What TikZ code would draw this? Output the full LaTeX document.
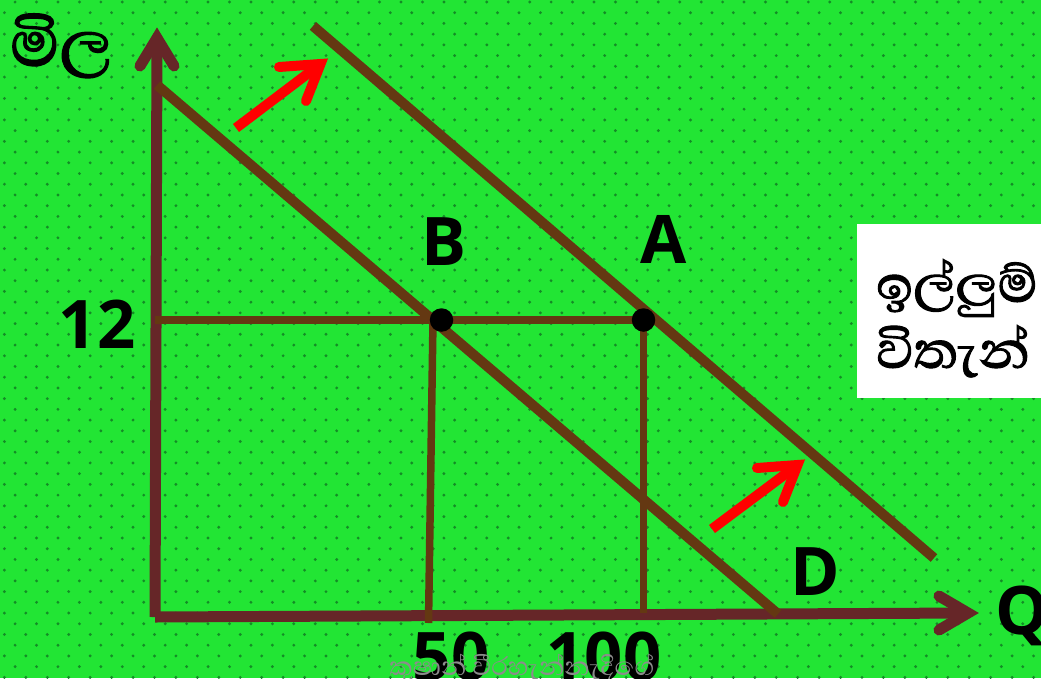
\documentclass[tikz,border=0pt]{standalone}
\usepackage{fontspec}
\setmainfont{Open Sans}
\newfontfamily\sinhalafont[Script=Sinhala,FakeBold=1.6]{Abhaya Libre}
\newfontfamily\sinhalalight[Script=Sinhala]{Abhaya Libre}
\definecolor{bg}{RGB}{34,229,52}
\definecolor{dotc}{RGB}{20,140,38}
\definecolor{axisc}{RGB}{102,38,40}
\definecolor{dem}{RGB}{100,56,18}
\definecolor{redc}{RGB}{255,0,0}
\definecolor{wmc}{RGB}{140,140,140}
\begin{document}
\begin{tikzpicture}[x=1pt,y=-1pt,
  axisline/.style={draw=axisc,line width=11pt},
  axishead/.style={draw=axisc,line width=11pt,line cap=round,line join=miter},
  demline/.style={draw=dem,line width=10pt},
  guide/.style={draw=dem,line width=7.5pt},
  shaft/.style={draw=redc,line width=10pt},
  shead/.style={draw=redc,line width=10pt,line cap=round,line join=miter},
  pt/.style={circle,fill=black,inner sep=0pt,minimum size=23.5pt},
  lab/.style={font=\bfseries\fontsize{67}{70}\selectfont,anchor=base,inner sep=0pt},
  sin/.style={font=\sinhalafont\fontsize{66}{70}\selectfont,anchor=base west,inner sep=0pt}]
\useasboundingbox (0,0) rectangle (1041,678);
\clip (0,0) rectangle (1041,678);
\fill[bg] (0,0) rectangle (1041,678);
\foreach \k in {0,...,63}{
  \pgfmathsetmacro\yy{2+10.72*\k}
  \pgfmathsetmacro\xo{mod(\k,2)==1 ? 4.4 : 15.1}
  \foreach \c in {0,...,48}{
    \fill[dotc] (\xo+21.44*\c,\yy) circle (1.6pt);
  }
}
% white box
\node (box) [fill=white,inner sep=0pt,minimum width=184pt,minimum height=174pt,anchor=north west] at (857,224) {};
% axes
\coordinate (O) at (155,617);
\coordinate (Ytop) at (157,38);
\coordinate (Yl) at (140,66);
\coordinate (Yr) at (174,66);
\coordinate (Xend) at (968,613);
\coordinate (Xu) at (939,596);
\coordinate (Xd) at (939,630);
\draw[axisline] (O) -- (Ytop);
\draw[axishead] (Yl) -- (Ytop) -- (Yr);
\draw[axisline] (O) -- (Xend);
\draw[axishead] (Xu) -- (Xend) -- (Xd);
% demand lines
\coordinate (D1a) at (157,85);
\coordinate (D1b) at (778,614);
\coordinate (D2a) at (313,26);
\coordinate (D2b) at (934,558);
\draw[demline] (D1a) -- (D1b);
\draw[demline] (D2a) -- (D2b);
% guides
\coordinate (P12) at (155,320);
\coordinate (Btop) at (433,320);
\coordinate (Bbot) at (428.5,623);
\coordinate (Atop) at (643.5,320);
\coordinate (Abot) at (643.5,613);
\draw[guide] (P12) -- (Atop);
\draw[guide] (Btop) -- (Bbot);
\draw[guide] (Atop) -- (Abot);
\node (B) [pt] at (441.5,320) {};
\node (A) [pt] at (643.5,320) {};
% red arrows
\coordinate (r1t) at (236,128);
\coordinate (r1h) at (320.5,64);
\coordinate (r1a) at (279,67);
\coordinate (r1b) at (306,101);
\draw[shaft] (r1t) -- (r1h);
\draw[shead] (r1a) -- (r1h) -- (r1b);
\coordinate (r2t) at (712,529);
\coordinate (r2h) at (797.5,465);
\coordinate (r2a) at (757,468);
\coordinate (r2b) at (783,502);
\draw[shaft] (r2t) -- (r2h);
\draw[shead] (r2a) -- (r2h) -- (r2b);
% labels
\node (lB) [lab] at (444.5,265) {B};
\node (lA) [lab] at (663.5,263) {A};
\node (l12) [lab] at (97,348) {12};
\node (lD) [lab] at (815.5,595) {D};
\node (lQ) [lab] at (1022,634) {Q};
\node (l50) [lab] at (451,680) {50};
\node (l100) [lab] at (604,680) {100};
\node (price) [sin,font=\sinhalafont\fontsize{82}{86}\selectfont] at (10,66) {මිල};
\node (t1) [sin] at (876,302) {ඉල්ලුම්};
\node (t2) [sin] at (876,368) {විතැන්};
\node (wm) [font=\sinhalalight\fontsize{33}{36}\selectfont,text=wmc,anchor=base,inner sep=0pt] at (522,675) {කුෂාන් වීරහැන්නැදිගේ};
\end{tikzpicture}
\end{document}
